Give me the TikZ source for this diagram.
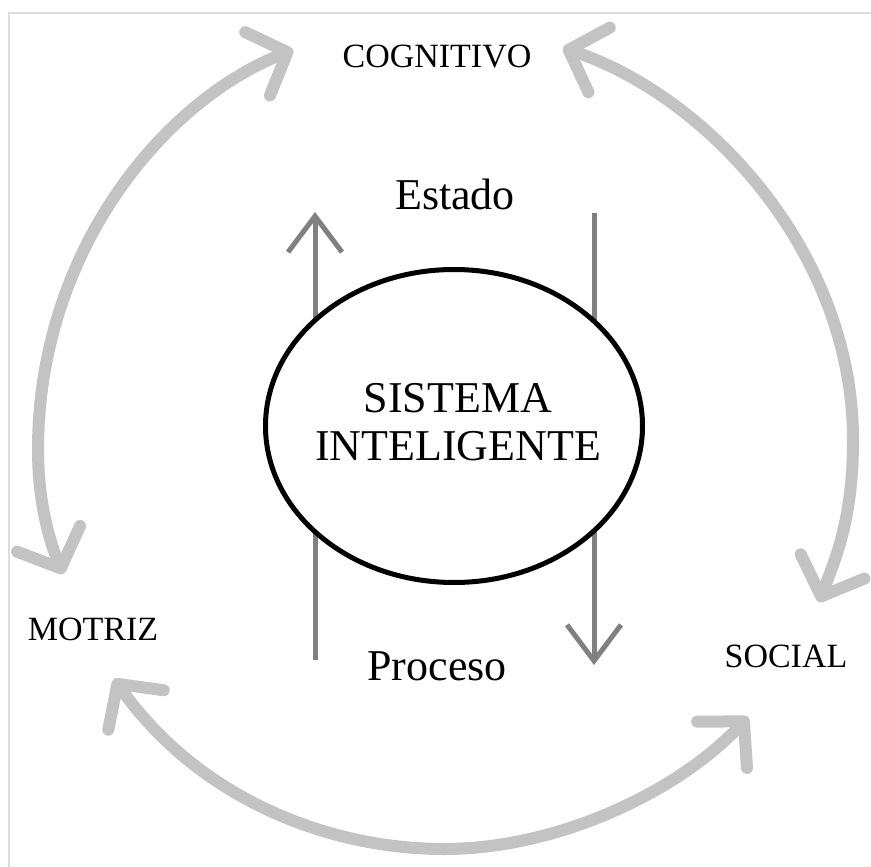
\documentclass[tikz,border=0pt]{standalone}
\usepackage{fontspec}
\setmainfont{Liberation Serif}
\usetikzlibrary{arrows.meta,shapes.geometric}
\definecolor{arcgray}{HTML}{C3C3C3}
\definecolor{midgray}{HTML}{808080}
\definecolor{framegray}{HTML}{DCDCDC}
\begin{document}
\begin{tikzpicture}[x=1pt,y=-1pt,
  arcarrow/.style={draw=arcgray, line width=12pt, line cap=round, line join=round,
    {Straight Barb[length=32pt,width=68pt,round]}-{Straight Barb[length=32pt,width=68pt,round]}},
  vertarrow/.style={draw=midgray, line width=5pt,
    -{Straight Barb[length=36pt,width=54pt]}},
  smalllab/.style={anchor=base, inner sep=0pt, font=\fontsize{34}{40}\selectfont},
  biglab/.style={anchor=base, inner sep=0pt, font=\fontsize{44}{48}\selectfont},
  sysnode/.style={ellipse, draw=black, line width=5pt, fill=white,
    minimum width=377pt, minimum height=313pt, inner sep=0pt},
  systext/.style={inner sep=0pt, align=center, font=\fontsize{44}{48}\selectfont}
]
\fill[white] (0,0) rectangle (871,867);
\useasboundingbox (0,0) rectangle (871,867);
% frame
\draw[framegray, line width=2pt] (9,867) -- (9,13) -- (871,13);

% text labels
\node[smalllab] (cog) at (437,68) {COGNITIVO};
\node[smalllab] (mot) at (93,640) {MOTRIZ};
\node[smalllab] (soc) at (786,667) {SOCIAL};
\node[biglab] (est) at (455,209) {Estado};
\node[biglab] (pro) at (437,680) {Proceso};

% arc end points
\coordinate (cogL) at (293,50);
\coordinate (cogR) at (563,48);
\coordinate (motT) at (63,574);
\coordinate (motB) at (114,679);
\coordinate (socT) at (819,602);
\coordinate (socB) at (748,717);
\coordinate (leftmid) at (38,450);
\coordinate (rightmid) at (853,440);
\coordinate (botmid) at (444,849);

% curved double arrows
\draw[arcarrow] (motT) .. controls (45,530) and (38,490) .. (leftmid)
  .. controls (38,250) and (165,100) .. (cogL);
\draw[arcarrow] (cogR) .. controls (705,95) and (853,250) .. (rightmid)
  .. controls (853,520) and (835,560) .. (socT);
\draw[arcarrow] (motB) .. controls (200,800) and (330,849) .. (botmid)
  .. controls (560,849) and (680,790) .. (socB);

% vertical arrows
\coordinate (lb) at (315,660);
\coordinate (lt) at (315,212);
\coordinate (rt) at (594,213);
\coordinate (rb) at (594,665);
\draw[vertarrow] (lb) -- (lt);
\draw[vertarrow] (rt) -- (rb);

% central system
\node[sysnode] (sys) at (454,426) {};
\node[systext] (syst) at (458,422) {SISTEMA\\INTELIGENTE};
\end{tikzpicture}
\end{document}
